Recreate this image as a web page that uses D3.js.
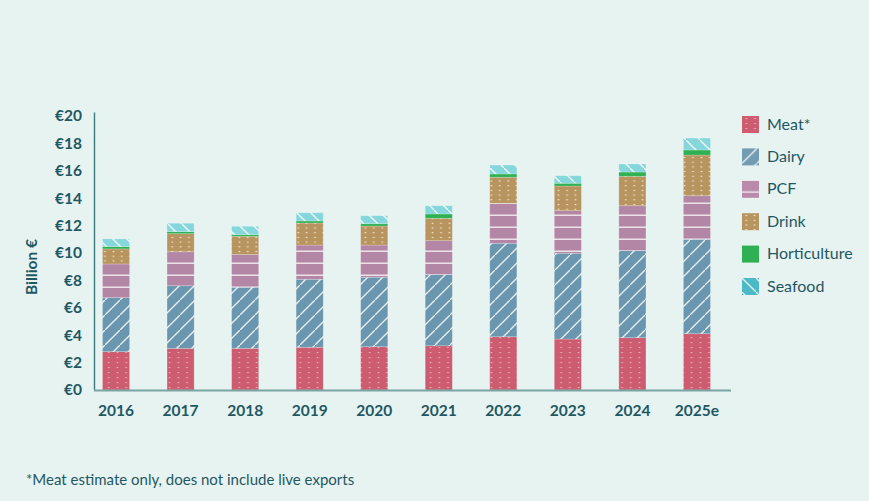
<!DOCTYPE html>
<html>
<head>
<meta charset="utf-8">
<script src="https://cdn.jsdelivr.net/npm/d3@7"></script>
<style>
  html, body {
    margin: 0;
    padding: 0;
    background: #e7f3f1;
  }
  svg {
    display: block;
    font-family: Lato, 'Noto Sans', sans-serif;
  }
  .tick-label {
    fill: #1f5863;
    font-size: 15.5px;
    font-weight: 700;
  }
  .legend-label {
    fill: #1f5863;
    font-size: 16px;
  }
  .footnote {
    fill: #1f5863;
    font-size: 15px;
  }
</style>
</head>
<body>
<script>
'use strict';

var years = ['2016', '2017', '2018', '2019', '2020', '2021', '2022', '2023', '2024', '2025e'];
var meat = [2.80, 3.04, 3.04, 3.12, 3.16, 3.23, 3.89, 3.72, 3.82, 4.11];
var dairy = [3.94, 4.57, 4.46, 4.96, 5.07, 5.19, 6.82, 6.26, 6.35, 6.89];
var pcf = [2.46, 2.48, 2.40, 2.50, 2.35, 2.48, 2.92, 3.11, 3.28, 3.18];
var drink = [1.10, 1.32, 1.32, 1.61, 1.39, 1.63, 1.90, 1.80, 2.15, 2.97];
var horticulture = [0.17, 0.15, 0.12, 0.15, 0.17, 0.32, 0.24, 0.20, 0.31, 0.37];
var seafood = [0.56, 0.61, 0.61, 0.60, 0.58, 0.60, 0.65, 0.55, 0.59, 0.87];
var seriesNames = ['Meat*', 'Dairy', 'PCF', 'Drink', 'Horticulture', 'Seafood'];
var yTicks = [0, 2, 4, 6, 8, 10, 12, 14, 16, 18, 20];

var WIDTH = 869,
    HEIGHT = 501;

// fill and hatch style for each series, in stacking order
var STYLES = [
  {key: 'meat', color: '#cd5c70', swatch: '#cd5c70', pattern: 'dots', w: 8.7, h: 5, dot: 0.55},
  {key: 'dairy', color: '#6a97af', swatch: '#739cb3', pattern: 'slash', w: 15, h: 15},
  {key: 'pcf', color: '#b486a5', swatch: '#b98aa9', pattern: 'hline', w: 12, h: 12},
  {key: 'drink', color: '#b8945e', swatch: '#b8945e', pattern: 'dots', w: 8.4, h: 4.7, dot: 0.85},
  {key: 'horticulture', color: '#2fb052', swatch: '#2fb052', pattern: null},
  {key: 'seafood', color: '#86d7dc', swatch: '#4cbac6', pattern: 'backslash', w: 14, h: 14}
];

var table = years.map(function (year, i) {
  return {
    year: year,
    meat: meat[i],
    dairy: dairy[i],
    pcf: pcf[i],
    drink: drink[i],
    horticulture: horticulture[i],
    seafood: seafood[i]
  };
});

var svg = d3.select('body').append('svg')
    .attr('width', WIDTH)
    .attr('height', HEIGHT)
    .attr('viewBox', '0 0 ' + WIDTH + ' ' + HEIGHT);

svg.append('rect')
    .attr('width', WIDTH)
    .attr('height', HEIGHT)
    .attr('fill', '#e7f3f1');

var defs = svg.append('defs');

// builds a pattern: base colour with white marks on top
var makePattern = function (id, style, base) {
  var p = defs.append('pattern')
      .attr('id', id)
      .attr('patternUnits', 'userSpaceOnUse')
      .attr('width', style.w)
      .attr('height', style.h);
  p.append('rect')
      .attr('width', style.w)
      .attr('height', style.h)
      .attr('fill', base);
  if (style.pattern === 'dots') {
    p.append('rect')
        .attr('x', style.w / 2 - 0.8)
        .attr('y', style.h / 2 - 0.5)
        .attr('width', 1.6)
        .attr('height', 1.1)
        .attr('fill', '#fff')
        .attr('fill-opacity', style.dot);
  } else if (style.pattern === 'slash') {
    p.append('path')
        .attr('d', 'M-2,' + (style.h + 2) + 'L' + (style.w + 2) + ',-2')
        .attr('stroke', '#fff')
        .attr('stroke-opacity', 0.85)
        .attr('stroke-width', 1.3);
  } else if (style.pattern === 'backslash') {
    p.append('path')
        .attr('d', 'M-2,-2L' + (style.w + 2) + ',' + (style.h + 2))
        .attr('stroke', '#fff')
        .attr('stroke-opacity', 0.85)
        .attr('stroke-width', 1.3);
  } else if (style.pattern === 'hline') {
    p.append('rect')
        .attr('y', style.h - 1.5)
        .attr('width', style.w)
        .attr('height', 1.5)
        .attr('fill', '#fff')
        .attr('fill-opacity', 0.75);
  }
};

STYLES.forEach(function (s) {
  if (s.pattern) {
    makePattern('pat-' + s.key, s, s.color);
    makePattern('sw-' + s.key, s, s.swatch);
  }
});

var fillFor = function (s, legend) {
  if (!s.pattern) {
    return legend ? s.swatch : s.color;
  }
  return 'url(#' + (legend ? 'sw-' : 'pat-') + s.key + ')';
};

var x = d3.scaleBand()
    .domain(years)
    .range([102.5, 710.5])
    .paddingInner(0.58)
    .paddingOuter(0);

var y = d3.scaleLinear()
    .domain([0, 20])
    .range([390, 116]);

var stack = d3.stack()
    .keys(STYLES.map(function (s) { return s.key; }));

var layers = stack(table);

// bars
svg.append('g')
    .selectAll('g')
    .data(layers)
    .join('g')
    .attr('fill', function (d, i) { return fillFor(STYLES[i], false); })
    .selectAll('rect')
    .data(function (d) { return d; })
    .join('rect')
    .attr('x', function (d) { return x(d.data.year); })
    .attr('y', function (d) { return y(d[1]); })
    .attr('width', x.bandwidth())
    .attr('height', function (d) { return y(d[0]) - y(d[1]); })
    .attr('stroke', '#ffffff')
    .attr('stroke-opacity', 0.25)
    .attr('stroke-width', 0.8);

// y axis
var yAxis = svg.append('g')
    .attr('transform', 'translate(94,0)')
    .call(d3.axisLeft(y)
        .tickValues(yTicks)
        .tickSize(0)
        .tickPadding(12)
        .tickFormat(function (d) { return '€' + d; }));
yAxis.select('.domain').remove();
yAxis.selectAll('text')
    .attr('class', 'tick-label')
    .attr('fill', null);
yAxis.attr('font-size', null).attr('font-family', null);

svg.append('line')
    .attr('x1', 94.5)
    .attr('x2', 94.5)
    .attr('y1', y(20) - 3.5)
    .attr('y2', y(0))
    .attr('stroke', '#3a7c7e')
    .attr('stroke-width', 1.4);

// x axis
var xAxis = svg.append('g')
    .attr('transform', 'translate(0,' + y(0) + ')')
    .call(d3.axisBottom(x).tickSize(0).tickPadding(15));
xAxis.select('.domain').remove();
xAxis.selectAll('text')
    .attr('class', 'tick-label')
    .attr('fill', null);
xAxis.attr('font-size', null).attr('font-family', null);

svg.append('line')
    .attr('x1', 94)
    .attr('x2', 731)
    .attr('y1', y(0) + 0.5)
    .attr('y2', y(0) + 0.5)
    .attr('stroke', '#79a5a5')
    .attr('stroke-width', 2);

svg.append('text')
    .attr('class', 'tick-label')
    .attr('transform', 'translate(32,267) rotate(-90)')
    .attr('text-anchor', 'middle')
    .attr('dy', '0.35em')
    .text('Billion €');

// legend
var legend = svg.append('g')
    .attr('transform', 'translate(742,116)')
    .selectAll('g')
    .data(STYLES)
    .join('g')
    .attr('transform', function (d, i) { return 'translate(0,' + (i * 32.4) + ')'; });

legend.append('rect')
    .attr('width', 17)
    .attr('height', 17)
    .attr('fill', function (d) { return fillFor(d, true); });

legend.append('text')
    .attr('class', 'legend-label')
    .attr('x', 25)
    .attr('y', 8)
    .attr('dy', '0.35em')
    .text(function (d, i) { return seriesNames[i]; });

svg.append('text')
    .attr('class', 'footnote')
    .attr('x', 26)
    .attr('y', 485)
    .text('*Meat estimate only, does not include live exports');
</script>
</body>
</html>
